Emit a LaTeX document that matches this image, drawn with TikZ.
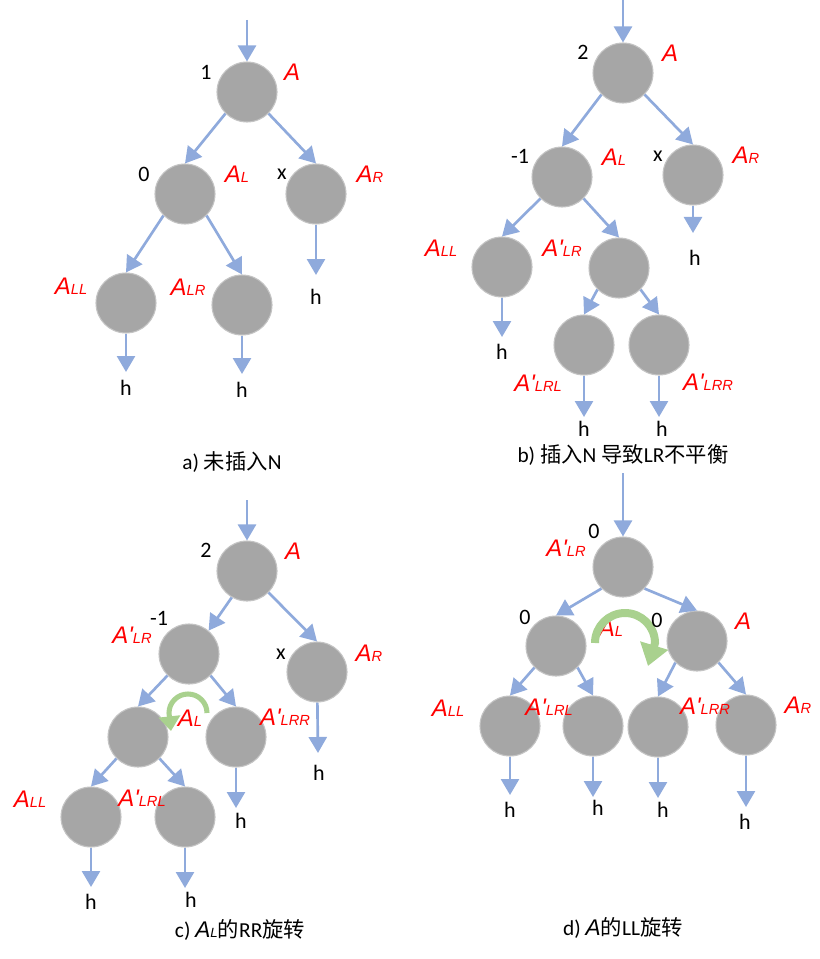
\documentclass[tikz,border=0pt]{standalone}
\usepackage{fontspec}
\setmainfont{Carlito}
\newfontfamily\cjk{Noto Sans CJK SC}
\newfontfamily\hand{Liberation Sans}
\usetikzlibrary{arrows.meta}
\definecolor{edgeblue}{HTML}{8FAADC}
\definecolor{nodegray}{HTML}{A6A6A6}
\definecolor{ringgray}{HTML}{C4C4C4}
\definecolor{rotgreen}{HTML}{A9D18E}
\newcommand\hA[2]{{\hand\itshape\fontsize{18}{18}\selectfont A#1\fontsize{11}{11}\selectfont #2}}
\newcommand\hAcap[1]{{\hand\itshape\fontsize{17}{17}\selectfont A\fontsize{10}{10}\selectfont #1}}
\tikzset{
  tnode/.style={circle, fill=nodegray, draw=ringgray, line width=0.8pt, minimum size=45pt, inner sep=0pt},
  edge/.style={draw=edgeblue, line width=2pt, -{Triangle[length=12pt,width=13.5pt]}},
  num/.style={font=\fontsize{16.5}{16.5}\selectfont, text=black, inner sep=1pt},
  lab/.style={text=red, inner sep=1pt},
  captext/.style={font=\fontsize{16}{16}\selectfont, inner sep=1pt},
  rotc/.style={draw=rotgreen, line width=3.8pt, -{Triangle[length=11pt,width=16pt]}},
  rotd/.style={draw=rotgreen, line width=6pt, -{Triangle[length=16pt,width=21pt]}}
}
\begin{document}
\begin{tikzpicture}[x=0.75pt,y=-0.75pt]
\useasboundingbox (0,0) rectangle (819,959);
% ================= panel a =================
\node[tnode] (aA) at (247,92) {};
\node[tnode] (aAL) at (185,194) {};
\node[tnode] (aAR) at (316,194) {};
\node[tnode] (aALL) at (126,303) {};
\node[tnode] (aALR) at (242,305) {};
\coordinate (aIn) at (247,20);
\coordinate (aE1) at (126,372);
\coordinate (aE2) at (242,374);
\coordinate (aE3) at (316,275);
\draw[edge] (aIn) -- (aA);
\draw[edge] (aA.south west) -- (aAL.north);
\draw[edge] (aA.south east) -- (aAR.north);
\draw[edge] (aAL.south west) -- (aALL.north);
\draw[edge] (aAL.south east) -- (aALR.north);
\draw[edge] (aALL) -- (aE1);
\draw[edge] (aALR) -- (aE2);
\draw[edge] (aAR) -- (aE3);
\node[lab] (aLA) at (292,72) {\hA{}{}};
\node[lab] (aLAL) at (237,174) {\hA{}{L}};
\node[lab] (aLAR) at (370,174) {\hA{}{R}};
\node[lab] (aLALL) at (71,286) {\hA{}{LL}};
\node[lab] (aLALR) at (188,287) {\hA{}{LR}};
\node[num] (aN1) at (206,72) {1};
\node[num] (aN2) at (144,174) {0};
\node[num] (aN3) at (282,174) {x};
\node[num] (aH1) at (126,388) {h};
\node[num] (aH2) at (242,390) {h};
\node[num] (aH3) at (316,297) {h};
\node[captext] (aCap) at (232,462) {a) {\cjk 未插入}N};
% ================= panel b =================
\node[tnode] (bA) at (623,73) {};
\node[tnode] (bAL) at (562,177) {};
\node[tnode] (bAR) at (693,175) {};
\node[tnode] (bALL) at (502,267) {};
\node[tnode] (bALR) at (619,268) {};
\node[tnode] (bALRL) at (584,345) {};
\node[tnode] (bALRR) at (659,345) {};
\coordinate (bIn) at (623,0);
\coordinate (bE1) at (502,337);
\coordinate (bE2) at (693,233);
\coordinate (bE3) at (584,417);
\coordinate (bE4) at (659,417);
\draw[edge] (bIn) -- (bA);
\draw[edge] (bA.south west) -- (bAL.north);
\draw[edge] (bA.south east) -- (bAR.north);
\draw[edge] (bAL.south west) -- (bALL.north);
\draw[edge] (bAL.south east) -- (bALR.north);
\draw[edge] (bALR.south west) -- (bALRL.north);
\draw[edge] (bALR.south east) -- (bALRR.north);
\draw[edge] (bALL) -- (bE1);
\draw[edge] (bAR) -- (bE2);
\draw[edge] (bALRL) -- (bE3);
\draw[edge] (bALRR) -- (bE4);
\node[lab] (bLA) at (670,53) {\hA{}{}};
\node[lab] (bLAL) at (614,157) {\hA{}{L}};
\node[lab] (bLAR) at (746,155) {\hA{}{R}};
\node[lab] (bLALL) at (441,248) {\hA{}{LL}};
\node[lab] (bLALR) at (562,248) {\hA{'}{LR}};
\node[lab] (bLALRL) at (538,383) {\hA{'}{LRL}};
\node[lab] (bLALRR) at (708,382) {\hA{'}{LRR}};
\node[num] (bN1) at (583,52) {2};
\node[num] (bN2) at (520,156) {-1};
\node[num] (bN3) at (658,156) {x};
\node[num] (bH1) at (502,352) {h};
\node[num] (bH2) at (695,258) {h};
\node[num] (bH3) at (584,429) {h};
\node[num] (bH4) at (662,429) {h};
\node[captext] (bCap) at (623,455) {b) {\cjk 插入}N {\cjk 导致}LR{\cjk 不平衡}};
% ================= panel c =================
\node[tnode] (cA) at (247,571) {};
\node[tnode] (cALR) at (189,654) {};
\node[tnode] (cAR) at (317,672) {};
\node[tnode] (cAL) at (138,737) {};
\node[tnode] (cALRR) at (236,737) {};
\node[tnode] (cALL) at (91,817) {};
\node[tnode] (cALRL) at (185,817) {};
\coordinate (cIn) at (247,500);
\coordinate (cE1) at (91,887);
\coordinate (cE2) at (185,888);
\coordinate (cE3) at (236,808);
\coordinate (cE4) at (318,753);
\draw[edge] (cIn) -- (cA);
\draw[edge] (cA.240) -- (cALR.50);
\draw[edge] (cA.south east) -- (cAR.north);
\draw[edge] (cALR.south west) -- (cAL.north);
\draw[edge] (cALR.south east) -- (cALRR.north);
\draw[edge] (cAL.south west) -- (cALL.north);
\draw[edge] (cAL.south east) -- (cALRL.north);
\draw[edge] (cALL) -- (cE1);
\draw[edge] (cALRL) -- (cE2);
\draw[edge] (cALRR) -- (cE3);
\draw[edge] (cAR) -- (cE4);
\node[lab] (cLA) at (293,551) {\hA{}{}};
\node[lab] (cLALR) at (132,635) {\hA{'}{LR}};
\node[lab] (cLAR) at (369,653) {\hA{}{R}};
\node[lab] (cLAL) at (190,718) {\hA{}{L}};
\node[lab] (cLALRR) at (285,717) {\hA{'}{LRR}};
\node[lab] (cLALL) at (30,799) {\hA{}{LL}};
\node[lab] (cLALRL) at (142,798) {\hA{'}{LRL}};
\coordinate (cRotS) at (207,713);
\coordinate (cRotT) at (171,731);
\draw[rotc] (cRotS) arc[start angle=0, end angle=180, radius=14.25pt] -- (cRotT);
\node[num] (cN1) at (206,550) {2};
\node[num] (cN2) at (159,618) {-1};
\node[num] (cN3) at (281,654) {x};
\node[num] (cH1) at (91,902) {h};
\node[num] (cH2) at (191,900) {h};
\node[num] (cH3) at (241,821) {h};
\node[num] (cH4) at (319,773) {h};
\node[captext] (cCap) at (240,930) {c) \hAcap{L}{\cjk 的}RR{\cjk 旋转}};
% ================= panel d =================
\node[tnode] (dT) at (623,567) {};
\node[tnode] (dL) at (556,646) {};
\node[tnode] (dR) at (697,641) {};
\node[tnode] (dALL) at (510,726) {};
\node[tnode] (dALRL) at (593,726) {};
\node[tnode] (dALRR) at (658,727) {};
\node[tnode] (dAR) at (746,725) {};
\coordinate (dIn) at (623,473);
\coordinate (dE1) at (510,795);
\coordinate (dE2) at (593,797);
\coordinate (dE3) at (658,798);
\coordinate (dE4) at (746,807);
\draw[edge] (dIn) -- (dT);
\draw[edge] (dT.south west) -- (dL.north);
\draw[edge] (dT.south east) -- (dR.north);
\draw[edge] (dL.south west) -- (dALL.north);
\draw[edge] (dL.south east) -- (dALRL.north);
\draw[edge] (dR.south west) -- (dALRR.north);
\draw[edge] (dR.south east) -- (dAR.north);
\draw[edge] (dALL) -- (dE1);
\draw[edge] (dALRL) -- (dE2);
\draw[edge] (dALRR) -- (dE3);
\draw[edge] (dAR) -- (dE4);
\node[lab] (dLALR) at (566,548) {\hA{'}{LR}};
\node[lab] (dLA) at (743,621) {\hA{}{}};
\node[lab] (dLALL) at (448,708) {\hA{}{LL}};
\node[lab] (dLALRL) at (549,707) {\hA{'}{LRL}};
\node[lab] (dLALRR) at (705,706) {\hA{'}{LRR}};
\node[lab] (dLAR) at (798,705) {\hA{}{R}};
\node[lab] (dLAL) at (611,628) {\hA{}{L}};
\coordinate (dRotS) at (595,643);
\coordinate (dRotT) at (648,666);
\draw[rotd] (dRotS) arc[start angle=180, end angle=0, radius=22.5pt] -- (dRotT);
\node[num] (dN1) at (594,531) {0};
\node[num] (dN2) at (525,617) {0};
\node[num] (dN3) at (657,620) {0};
\node[num] (dH1) at (510,810) {h};
\node[num] (dH2) at (598,808) {h};
\node[num] (dH3) at (663,810) {h};
\node[num] (dH4) at (745,822) {h};
\node[captext] (dCap) at (623,928) {d) \hAcap{}{\cjk 的}LL{\cjk 旋转}};
\end{tikzpicture}
\end{document}
